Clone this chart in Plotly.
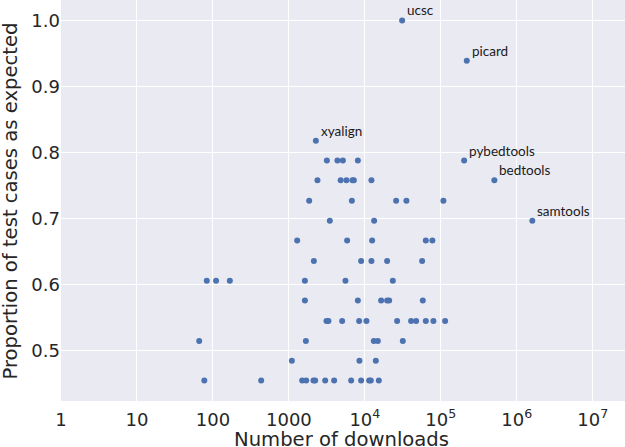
import math
import plotly.graph_objects as go

# Number of downloads (x) and proportion of test cases as expected (y)
downloads = [
    77, 432, 1496, 1690, 2108, 2218, 3005, 3945, 6607, 8935, 11400, 11990, 15280,
    1095, 8490, 13960,
    66, 1674, 13130, 14830, 31620,
    3125, 3319, 5027, 8414, 10500, 26600, 40650, 47320, 63500, 79960, 114000,
    1625, 8090, 16380, 19650, 20880, 57940,
    83, 110, 167, 1625, 5557, 23360,
    2133, 8935, 12210, 19650, 56760,
    1286, 5848, 12470, 63500, 77480,
    3461, 13250, 1603000,
    1849, 6745, 25820, 35260, 108200,
    2378, 4805, 5728, 6870, 7166, 12210, 507000,
    3162, 4357, 5140, 8090, 202700,
    2266,
    219800,
    30970,
]
proportion = (
    [0.455] * 13 + [0.485] * 3 + [0.515] * 5 + [0.545] * 11 + [0.576] * 6
    + [0.606] * 6 + [0.636] * 5 + [0.667] * 5 + [0.697] * 3 + [0.727] * 5
    + [0.758] * 7 + [0.788] * 5 + [0.818] + [0.939] + [1.0]
)

label_names = ["ucsc", "picard", "xyalign", "pybedtools", "bedtools", "samtools"]
label_x = [30970, 219800, 2266, 202700, 507000, 1603000]
label_y = [1.0, 0.939, 0.818, 0.788, 0.758, 0.697]

x_tickvals = [1, 10, 100, 1000, 1e4, 1e5, 1e6, 1e7]
x_ticktext = ["1", "10", "100", "1000", "10<sup>4</sup>", "10<sup>5</sup>",
              "10<sup>6</sup>", "10<sup>7</sup>"]
y_tickvals = [0.5, 0.6, 0.7, 0.8, 0.9, 1.0]

x_title = "Number of downloads"
y_title = "Proportion of test cases as expected"

fig = go.Figure()
fig.add_trace(go.Scatter(
    x=downloads, y=proportion, mode="markers",
    marker=dict(color="#4C72B0", size=6, line=dict(width=0)),
    showlegend=False,
))

for name, lx, ly in zip(label_names, label_x, label_y):
    fig.add_annotation(
        x=math.log10(lx), y=ly, xref="x", yref="y", text=name, showarrow=False,
        xanchor="left", yanchor="bottom", xshift=3, yshift=0,
        font=dict(family="Lato, Carlito, sans-serif", size=13.5, color="#1a1a1a"),
    )

tick_font = dict(family="DejaVu Sans", size=18, color="#262626")
title_font = dict(family="DejaVu Sans", size=19.6, color="#262626")

fig.add_annotation(
    x=0.5, y=0, xref="paper", yref="paper", text=x_title, showarrow=False,
    xanchor="center", yanchor="top", xshift=-1.5, yshift=-25, font=title_font,
)
fig.add_annotation(
    x=0, y=0.5, xref="paper", yref="paper", text=y_title, showarrow=False,
    textangle=-90, xanchor="center", yanchor="middle", xshift=-51, yshift=-1,
    font=title_font,
)

fig.update_layout(
    width=625, height=447,
    margin=dict(l=61, r=0, t=0, b=46),
    paper_bgcolor="white", plot_bgcolor="#EAEAF2",
    font=tick_font,
    xaxis=dict(
        type="log", range=[0, 7.425], automargin=False,
        tickvals=x_tickvals, ticktext=x_ticktext,
        showgrid=True, gridcolor="white", gridwidth=1,
        zeroline=False, showline=False, ticks="",
        tickfont=tick_font, ticklabelstandoff=6,
    ),
    yaxis=dict(
        range=[0.424, 1.031], automargin=False,
        tickvals=y_tickvals, tickformat=".1f",
        showgrid=True, gridcolor="white", gridwidth=1,
        zeroline=False, showline=False, ticks="",
        tickfont=tick_font,
    ),
)

fig.write_html(
    "out.html",
    config={"displayModeBar": False},
    post_script="document.body.style.margin='0';document.body.style.overflow='hidden';",
)
